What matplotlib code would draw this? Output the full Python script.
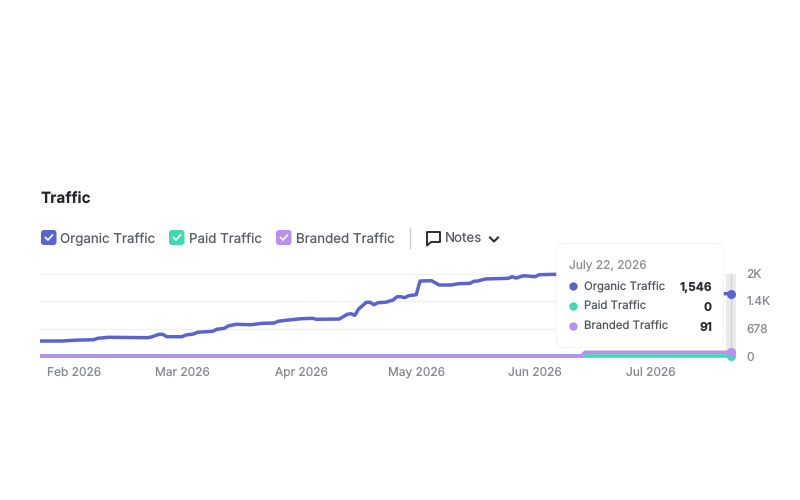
import matplotlib
matplotlib.use("Agg")
import matplotlib.dates as mdates
import matplotlib.pyplot as plt
import pandas as pd
from matplotlib.patches import FancyBboxPatch, Polygon

plt.rcParams['font.family'] = ['Inter', 'DejaVu Sans']
plt.rcParams['text.hinting'] = 'no_hinting'
plt.rcParams['text.hinting_factor'] = 1

# organic traffic
organic_dates = [
    "01-23", "01-29", "02-01", "02-06", "02-07", "02-10", "02-20", "02-21", "02-23", "02-24",
    "02-25", "03-01", "03-02", "03-04", "03-05", "03-09", "03-10", "03-12", "03-13", "03-15",
    "03-19", "03-22", "03-25", "03-26", "03-28", "04-01", "04-04", "04-05", "04-11", "04-13",
    "04-14", "04-15", "04-16", "04-18", "04-19", "04-20", "04-21", "04-23", "04-25", "04-26",
    "04-27", "04-28", "04-29", "05-01", "05-02", "05-05", "05-07", "05-10", "05-12", "05-15",
    "05-16", "05-17", "05-19", "05-25", "05-26", "05-27", "05-29", "06-01", "06-02", "06-06",
    "06-20", "07-10", "07-20", "07-22",
]
organic_values = [
    372, 372, 392, 404, 439, 464, 454, 471, 538, 538,
    479, 479, 521, 546, 588, 613, 662, 687, 744, 786,
    776, 811, 818, 860, 885, 925, 935, 910, 918, 1034,
    1049, 1009, 1166, 1332, 1332, 1272, 1322, 1332, 1389, 1471,
    1471, 1446, 1495, 1520, 1860, 1867, 1761, 1761, 1793, 1803,
    1853, 1860, 1910, 1927, 1967, 1934, 1991, 1967, 2016, 2026,
    2030, 1800, 1546, 1546,
]
paid_dates = ["01-23", "07-22"]
paid_values = [0, 0]
branded_dates = ["01-23", "06-13", "06-14", "07-22"]
branded_values = [0, 0, 91, 91]

y_ticks = [0, 678, 1356, 2034]
y_labels = ["0", "678", "1.4K", "2K"]

names = ["Organic Traffic", "Paid Traffic", "Branded Traffic"]
tooltip_date = "July 22, 2026"
tooltip_values = ["1,546", "0", "91"]

BLUE = "#5c63cf"
TEAL = "#3fd8b0"
PURPLE = "#b98ff0"
GREY = "#85898e"


def to_dates(days):
    return pd.to_datetime(["2026-" + d for d in days])


fig = plt.figure(figsize=(8, 5), dpi=100)

# axes box from pixels: x 40-731, y 274-356
ax = fig.add_axes([40 / 800, 1 - 356 / 500, 691 / 800, 82 / 500])
end = pd.Timestamp("2026-07-22")

ax.fill_between([end - pd.Timedelta(hours=33), end + pd.Timedelta(hours=33)], -60, 2034,
                color="#e8eaec", lw=0, clip_on=False, zorder=1)
ax.plot([end, end], [-60, 2034], color="#d0d3d6", lw=1, clip_on=False, zorder=1.5)

ax.plot(to_dates(paid_dates), paid_values, color=TEAL, lw=2.6, clip_on=False, zorder=3,
        solid_capstyle="butt")
ax.plot(to_dates(branded_dates), branded_values, color=PURPLE, lw=2.6, clip_on=False, zorder=4,
        solid_capstyle="butt")
ax.plot(to_dates(organic_dates), organic_values, color=BLUE, lw=2.5, clip_on=False, zorder=5,
        solid_capstyle="butt")

ax.plot(end, paid_values[-1], "o", color=TEAL, ms=6.5, mew=0, clip_on=False, zorder=6)
ax.plot(end, branded_values[-1], "o", color=PURPLE, ms=6.5, mew=0, clip_on=False, zorder=7)
ax.plot(end, organic_values[-1], "o", color=BLUE, ms=6.5, mew=0, clip_on=False, zorder=7)

ax.set_xlim(pd.Timestamp("2026-01-23"), end)
ax.set_ylim(0, 2034)
ax.xaxis.set_major_locator(mdates.MonthLocator())
ax.xaxis.set_major_formatter(mdates.DateFormatter("%b %Y"))
ax.yaxis.tick_right()
ax.set_yticks(y_ticks)
ax.set_yticklabels(y_labels)
ax.tick_params(axis="x", length=0, pad=7.8, labelsize=8.6, labelcolor=GREY)
ax.tick_params(axis="y", length=0, pad=11, labelsize=8.6, labelcolor=GREY)
ax.grid(axis="y", color="#f1f1f3", lw=1)
ax.set_axisbelow(True)
for s in ax.spines.values():
    s.set_visible(False)

# everything around the chart is placed in pixels on an overlay
ov = fig.add_axes([0, 0, 1, 1], zorder=10)
ov.set_xlim(0, 800)
ov.set_ylim(500, 0)
ov.axis("off")
ov.patch.set_alpha(0)

ov.text(40.5, 197.5, "Traffic", fontsize=11, fontweight="bold", color="#22262a", va="center_baseline")

box_x = [41, 169, 276]
text_x = [60, 189, 296]
for bx, tx, name, col in zip(box_x, text_x, names, [BLUE, TEAL, PURPLE]):
    ov.add_patch(FancyBboxPatch((bx + 2, 232), 11.5, 11, boxstyle="round,pad=2,rounding_size=3",
                                fc=col, ec="none"))
    ov.plot([bx + 4.5, bx + 7, bx + 11.5], [237.5, 240, 235], color="white", lw=1.2)
    ov.text(tx, 238, name, fontsize=9.6, color="#5a5e63", va="center_baseline")

ov.plot([409.5, 409.5], [228, 248], color="#c9cbce", lw=1)

# notes icon and chevron
ov.add_patch(Polygon([(427, 232), (440, 232), (440, 242), (431, 242), (427, 245.5)],
                     closed=True, fc="none", ec="#2a2d31", lw=1.4, joinstyle="round"))
ov.text(445, 238, "Notes", fontsize=9.6, color="#5a5e63", va="center_baseline")
ov.plot([490, 494, 498], [237.5, 241.5, 237.5], color="#2a2d31", lw=1.5)

# tooltip
ov.add_patch(FancyBboxPatch((560, 247), 160, 97, boxstyle="round,pad=4,rounding_size=5",
                            fc="#f2f2f4", ec="none", alpha=0.8))
ov.add_patch(FancyBboxPatch((560, 247), 160, 97, boxstyle="round,pad=3,rounding_size=5",
                            fc="white", ec="none"))
ov.text(569, 263.5, tooltip_date, fontsize=8.6, color="#8b8f94", va="center_baseline")
rows = [286, 306, 326]
for y, name, val, col in zip(rows, names, tooltip_values, [BLUE, TEAL, PURPLE]):
    ov.plot(573, y, "o", color=col, ms=6, mew=0)
    ov.text(584, y, name, fontsize=8.2, color="#54585d", va="center_baseline")
    ov.text(712, y + 0.5, val, fontsize=8.6, fontweight="bold", color="#2a2d31", va="center_baseline", ha="right")

fig.savefig("out.png", dpi=100)
